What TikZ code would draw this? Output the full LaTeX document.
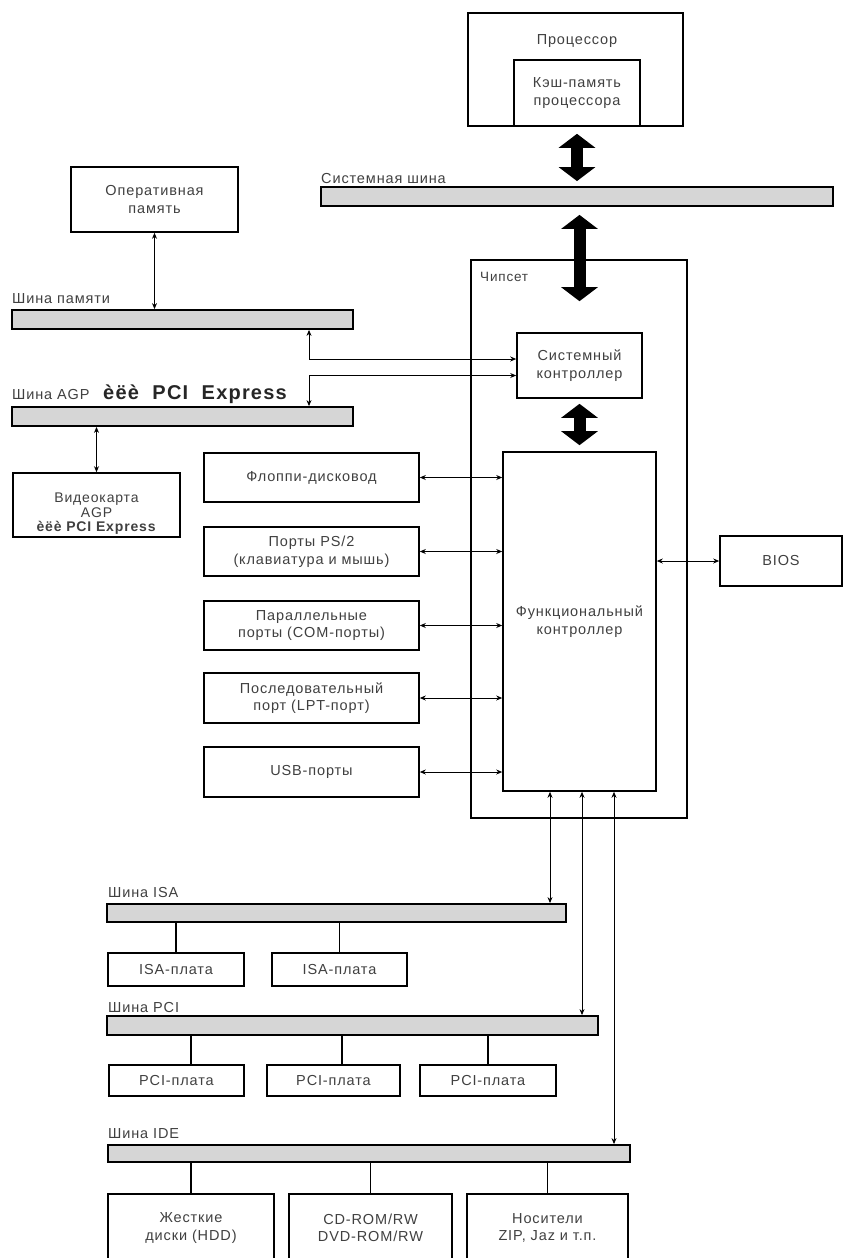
\documentclass[tikz,border=0pt]{standalone}
\usepackage{fontspec}
\setmainfont{Liberation Sans}[LetterSpace=6]
\usetikzlibrary{arrows.meta}
\begin{document}
\begin{tikzpicture}[x=1pt,y=-1pt,
  box/.style={draw, line width=1.6pt, inner sep=0pt, align=center, text=black!75, font=\fontsize{14.5}{17.5}\selectfont},
  bus/.style={draw, line width=1.8pt, fill=black!16, inner sep=0pt},
  lbl/.style={anchor=base west, inner sep=0pt, text=black!75, font=\fontsize{14.5}{17}\selectfont},
  txt/.style={inner sep=0pt, align=center, text=black!75, font=\fontsize{14.5}{17}\selectfont},
  link/.style={line width=0.9pt, {Stealth[length=6pt,width=5pt]}-{Stealth[length=6pt,width=5pt]}},
  fat/.style={line width=12pt, {Triangle[length=14pt,width=36pt]}-{Triangle[length=14pt,width=36pt]}},
  plain/.style={line width=1.2pt}
]
\useasboundingbox (0,0) rectangle (844,1258);
\clip (0,0) rectangle (844,1258);
\fill[white] (0,0) rectangle (844,1258);

% processor
\node[box, minimum width=215pt, minimum height=113pt] (proc) at (575.5,69.5) {};
\node[txt] (proct) at (577,41) {Процессор};
\node[box, minimum width=126pt, minimum height=66pt] (cache) at (577,93) {Кэш-память\\процессора};

% system bus
\node[bus, minimum width=512pt, minimum height=19pt] (sysbus) at (577,196.5) {};
\node[lbl] (sysbusl) at (321,183) {Системная шина};

% memory
\node[box, minimum width=167pt, minimum height=65pt] (ram) at (154.5,199.5) {Оперативная\\память};
\node[bus, minimum width=341pt, minimum height=19pt] (membus) at (182.5,319.5) {};
\node[lbl] (membusl) at (12,303) {Шина памяти};
\node[bus, minimum width=341pt, minimum height=19pt] (agpbus) at (182.5,416.5) {};
\node[lbl] (agpbusl) at (12,399) {Шина AGP};
\node[lbl, font=\fontsize{20}{23}\selectfont\bfseries, text=black!85] (agpbusl2) at (103,399) {èëè\ \ PCI\ \ Express};
\node[box, minimum width=167pt, minimum height=64pt] (video) at (96.5,505) {};
\node[txt, font=\fontsize{14}{14.5}\selectfont] (videot) at (96.5,514) {Видеокарта\\AGP\\\textbf{èëè PCI Express}};

% chipset
\node[box, minimum width=216pt, minimum height=558pt] (chipset) at (579,539) {};
\node[lbl, font=\fontsize{13.5}{15}\selectfont] (chipsetl) at (480,281) {Чипсет};
\node[box, minimum width=125pt, minimum height=65pt] (sysctrl) at (579.5,365.5) {Системный\\контроллер};
\node[box, minimum width=153pt, minimum height=339pt] (funcctrl) at (579.5,621.5) {Функциональный\\контроллер};

% fat arrows
\draw[fat] ([yshift=-7pt]cache.south) -- ([yshift=5pt]cache.south |- sysbus.north);
\draw[fat] ([yshift=-8pt]sysctrl.north |- sysbus.south) -- ([yshift=31pt]sysctrl.north);
\draw[fat] ([yshift=-5pt]sysctrl.south) -- ([yshift=6pt]sysctrl.south |- funcctrl.north);

% memory / agp links
\draw[link] (ram.south) -- (ram.south |- membus.north);
\coordinate (mx) at (309,0);
\coordinate (s1) at ([yshift=6.5pt]sysctrl.west);
\coordinate (s2) at ([yshift=-10pt]sysctrl.west);
\draw[link] (mx |- membus.south) -- (mx |- s1) -- (s1);
\draw[link] (s2) -- (mx |- s2) -- (mx |- agpbus.north);
\draw[link] (video.north |- agpbus.south) -- (video.north);

% peripheral boxes
\node[box, minimum width=215pt, minimum height=49pt] (floppy) at (311.5,477.5) {Флоппи-дисковод};
\node[box, minimum width=215pt, minimum height=49pt] (ps2) at (311.5,551.5) {Порты PS/2\\(клавиатура и мышь)};
\node[box, minimum width=215pt, minimum height=49pt] (par) at (311.5,625.5) {Параллельные\\порты (COM-порты)};
\node[box, minimum width=215pt, minimum height=50pt] (ser) at (311.5,698) {Последовательный\\порт (LPT-порт)};
\node[box, minimum width=215pt, minimum height=50pt] (usb) at (311.5,772) {USB-порты};
\foreach \n in {floppy,ps2,par,ser,usb}
  \draw[link] (\n.east) -- (\n.east -| funcctrl.west);

% BIOS
\node[box, minimum width=122pt, minimum height=50pt] (bios) at (781,561) {BIOS};
\draw[link] (bios.west -| funcctrl.east) -- (bios.west);

% lower buses
\node[bus, minimum width=459pt, minimum height=18pt] (isabus) at (336.5,913) {};
\node[lbl] (isabusl) at (108,897) {Шина ISA};
\node[box, minimum width=136pt, minimum height=33pt] (isa1) at (176,969.5) {ISA-плата};
\node[box, minimum width=135pt, minimum height=33pt] (isa2) at (339.5,969.5) {ISA-плата};
\draw[plain] (isa1.north) -- (isa1.north |- isabus.south);
\draw[plain] (isa2.north) -- (isa2.north |- isabus.south);

\node[bus, minimum width=491pt, minimum height=19pt] (pcibus) at (352.5,1025.5) {};
\node[lbl] (pcibusl) at (108,1012) {Шина PCI};
\node[box, minimum width=135pt, minimum height=31pt] (pci1) at (176.5,1080.5) {PCI-плата};
\node[box, minimum width=133pt, minimum height=31pt] (pci2) at (333.5,1080.5) {PCI-плата};
\node[box, minimum width=136pt, minimum height=31pt] (pci3) at (488,1080.5) {PCI-плата};
\draw[plain] ([xshift=14.5pt]pci1.north) -- ([xshift=14.5pt]pci1.north |- pcibus.south);
\draw[plain] ([xshift=8.5pt]pci2.north) -- ([xshift=8.5pt]pci2.north |- pcibus.south);
\draw[plain] (pci3.north) -- (pci3.north |- pcibus.south);

\node[bus, minimum width=522pt, minimum height=17pt] (idebus) at (369,1153.5) {};
\node[lbl] (idebusl) at (108,1138) {Шина IDE};
\node[box, minimum width=166pt, minimum height=68pt] (hdd) at (191,1228) {Жесткие\\диски (HDD)};
\node[box, minimum width=163pt, minimum height=68pt] (cd) at (370.5,1228) {CD-ROM/RW\\DVD-ROM/RW};
\node[box, minimum width=161pt, minimum height=68pt] (zip) at (547.5,1228) {Носители\\ZIP, Jaz и т.п.};
\foreach \n in {hdd,cd,zip}
  \draw[plain] (\n.north) -- (\n.north |- idebus.south);

% chipset to lower buses
\coordinate (c1) at (550,0);
\coordinate (c2) at (582,0);
\coordinate (c3) at (614,0);
\draw[link] (c1 |- funcctrl.south) -- (c1 |- isabus.north);
\draw[link] (c2 |- funcctrl.south) -- (c2 |- pcibus.north);
\draw[link] (c3 |- funcctrl.south) -- (c3 |- idebus.north);
\end{tikzpicture}
\end{document}
